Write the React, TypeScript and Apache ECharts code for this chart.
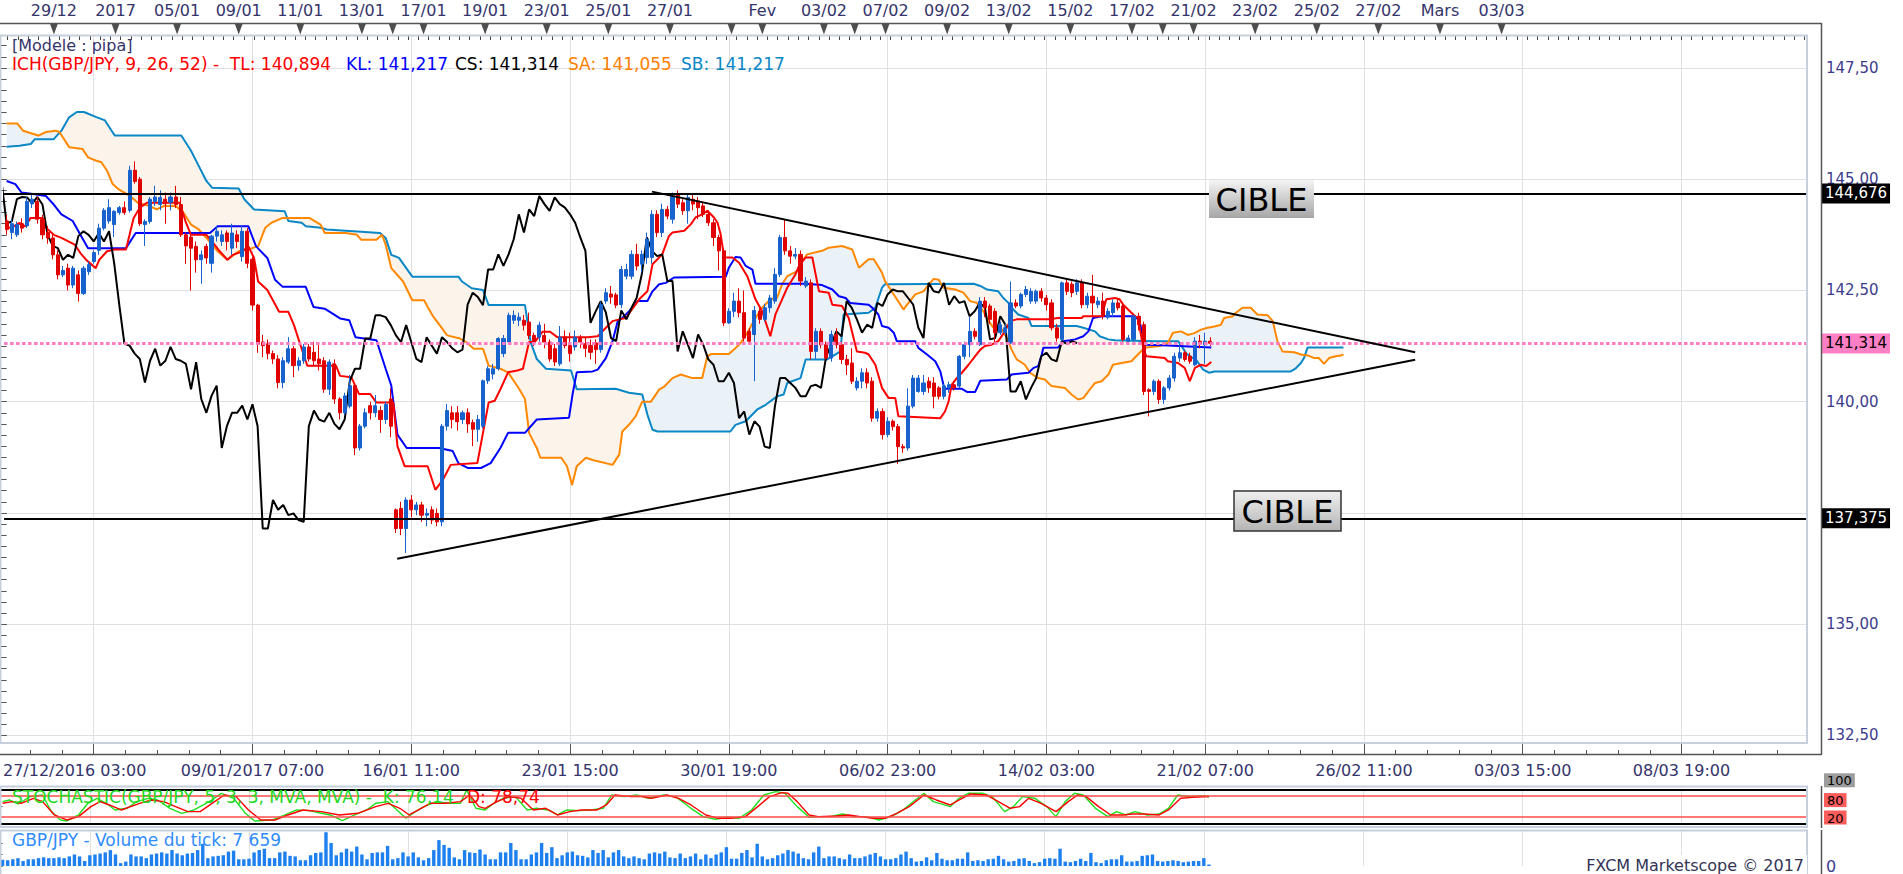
import React, { useEffect, useRef } from "react";
import * as echarts from "echarts";

const FONT = "DejaVu Sans";

// ---------- price candles (4h bars, index 0..235) ----------
const OPEN = [
  144.06,143.8,143.75,144.0,143.95,144.45,144.5,144.1,143.8,143.68,
  143.3,142.85,143.0,142.62,142.85,142.43,142.92,143.15,143.4,143.9,
  144.06,143.98,144.25,144.36,144.3,145.2,145.0,143.98,144.05,144.5,
  144.43,144.55,144.48,144.6,144.43,143.75,143.7,143.49,143.19,143.49,
  143.11,143.72,143.6,143.79,143.45,143.75,143.26,143.83,143.2,142.17,
  141.34,141.3,141.08,140.96,140.43,140.89,141.19,140.81,140.92,141.23,
  141.11,140.96,140.92,140.28,140.85,140.06,139.75,139.9,140.36,138.96,
  139.45,139.91,139.75,139.8,139.6,140.06,137.57,137.6,137.15,137.79,
  137.57,137.68,137.45,137.57,137.49,137.3,139.45,139.75,139.75,139.6,
  139.75,139.53,139.38,139.45,140.47,140.62,140.74,141.08,141.34,141.83,
  141.83,141.83,141.79,141.49,141.45,141.49,141.34,141.19,140.85,141.45,
  141.26,141.23,141.42,141.3,141.26,141.32,141.17,142.26,142.42,142.4,
  142.18,142.82,142.82,143.31,143.09,143.24,143.24,144.21,143.8,144.32,
  144.1,144.66,144.47,144.29,144.55,144.51,144.4,144.21,144.02,143.69,
  143.39,141.77,142.03,142.26,142.0,141.58,141.51,142.03,141.85,142.11,
  142.26,142.86,143.69,143.39,143.27,143.31,142.6,142.67,141.13,141.58,
  141.28,140.98,141.51,141.28,140.95,140.87,140.31,140.46,140.65,140.46,
  139.63,139.78,139.26,139.56,139.44,138.99,138.96,139.9,140.23,140.23,
  140.46,140.42,140.31,140.12,140.31,140.38,140.35,141.02,141.28,141.58,
  141.28,142.26,142.15,142.03,141.55,141.55,141.32,142.22,142.15,142.41,
  142.26,142.26,142.48,142.33,142.22,141.66,141.4,142.67,142.64,142.48,
  142.67,142.18,142.37,142.18,142.26,141.9,142.0,142.22,142.15,141.36,
  141.4,141.92,141.73,140.27,140.23,140.46,140.05,140.31,140.53,140.98,
  141.1,141.02,140.83,141.36,141.28,141.36
];
const CLOSE = [
  143.87,144.0,143.98,143.9,144.5,144.55,144.1,143.75,143.68,143.3,
  142.85,142.95,142.62,143.0,142.43,143.0,143.08,143.35,143.9,144.3,
  144.36,144.28,144.36,144.25,145.2,144.95,144.0,144.05,144.55,144.6,
  144.59,144.45,144.6,144.43,143.75,143.5,143.45,143.19,143.3,143.23,
  143.72,143.83,143.75,143.6,143.79,143.6,143.83,143.11,142.17,141.3,
  141.26,141.08,140.96,140.43,140.92,141.19,140.81,140.92,141.23,140.96,
  140.92,140.85,140.28,140.89,140.06,139.75,140.13,140.36,138.96,139.45,
  139.75,139.75,139.91,139.6,139.94,139.45,137.15,137.15,137.79,137.57,
  137.68,137.45,137.49,137.34,137.3,139.45,139.8,139.6,139.55,139.75,
  139.5,139.38,139.6,140.47,140.74,140.74,141.42,141.42,141.94,141.94,
  141.9,141.72,141.49,141.34,141.72,141.34,140.96,140.89,141.45,141.26,
  141.08,141.45,141.34,141.2,141.11,141.17,142.18,142.45,142.35,142.17,
  142.97,142.97,143.31,143.05,143.31,143.65,144.21,143.8,144.32,144.17,
  144.62,144.44,144.29,144.59,144.44,144.36,144.21,144.02,143.69,143.39,
  141.77,142.03,142.26,142.0,141.43,141.36,142.05,141.85,142.11,142.33,
  142.86,143.69,143.39,143.27,143.31,142.71,142.71,141.13,141.58,141.28,
  140.98,141.51,141.28,140.95,140.83,140.46,140.46,140.65,140.42,139.63,
  139.78,139.26,139.56,139.44,138.99,138.96,139.9,140.53,140.53,140.42,
  140.31,140.12,140.12,140.35,140.38,140.31,141.02,141.28,141.58,141.47,
  142.26,142.11,141.85,141.55,141.73,141.66,142.22,142.15,142.41,142.52,
  142.48,142.48,142.33,142.18,141.66,141.43,142.67,142.48,142.45,142.67,
  142.18,142.37,142.22,142.26,141.92,142.03,142.22,142.11,141.4,141.43,
  141.92,141.73,140.23,140.23,140.46,140.05,140.31,140.53,141.02,141.1,
  140.95,140.91,141.36,141.3,141.36,141.314
];
const LOW = [
  143.75,143.65,143.7,143.8,143.9,144.35,144.0,143.65,143.55,143.2,
  142.75,142.8,142.5,142.55,142.25,142.4,142.85,143.1,143.3,143.85,
  144.0,143.7,144.2,144.2,144.25,144.9,143.95,143.5,144.0,144.4,
  144.3,144.0,144.3,144.35,143.7,143.1,142.5,142.9,142.65,143.1,
  142.9,143.6,143.5,143.4,143.3,143.45,143.15,143.0,142.05,141.1,
  141.0,140.95,140.85,140.3,140.3,140.85,140.55,140.7,140.85,140.9,
  140.8,140.7,140.2,140.15,139.95,139.6,139.7,139.85,138.8,138.9,
  139.4,139.6,139.65,139.3,139.5,139.2,137.05,137.0,136.6,137.4,
  137.45,137.3,137.2,137.25,137.2,137.2,139.35,139.4,139.35,139.5,
  139.3,139.0,139.1,139.4,140.4,140.5,140.7,141.0,141.3,141.75,
  141.7,141.6,141.4,141.25,141.35,141.2,140.9,140.8,140.8,141.2,
  140.9,141.15,141.2,141.0,140.95,140.85,141.1,142.2,142.2,142.1,
  142.1,142.75,142.75,142.95,142.9,143.1,143.1,143.7,143.7,144.1,
  144.0,144.35,144.2,144.0,144.3,144.1,144.15,143.95,143.5,142.95,
  141.7,141.75,141.9,141.9,141.35,141.3,140.46,141.75,141.8,142.0,
  142.2,142.8,143.3,143.1,143.2,142.6,142.55,140.95,140.95,141.2,
  140.95,140.9,141.2,140.85,140.6,140.4,140.25,140.3,140.3,139.55,
  139.55,139.15,139.2,139.35,138.6,138.85,138.9,139.85,140.2,140.15,
  140.2,139.85,140.05,140.05,140.2,140.25,140.3,140.95,141.0,141.4,
  141.25,141.9,141.75,141.3,141.5,141.5,141.3,142.1,142.1,142.35,
  142.2,142.2,142.25,142.05,141.6,141.35,141.35,142.4,142.35,142.4,
  142.1,142.1,141.9,142.1,141.85,141.85,141.9,142.05,141.35,141.3,
  141.35,141.6,140.15,139.67,140.15,139.95,139.95,140.25,140.45,140.9,
  140.9,140.85,140.8,141.2,140.85,141.25
];
const HIGH = [
  144.2,144.1,144.05,144.12,144.6,144.65,144.6,144.2,143.95,143.75,
  143.4,143.05,143.1,143.05,142.95,143.05,143.15,143.4,144.0,144.35,
  144.55,144.3,144.4,144.5,145.3,145.4,145.05,144.1,144.6,144.85,
  144.75,144.7,144.7,144.85,144.6,143.8,143.75,143.6,143.4,143.55,
  143.75,143.95,143.85,143.85,144.0,143.85,143.95,143.9,143.25,142.2,
  141.5,141.4,141.15,141.05,141.0,141.45,141.25,141.0,141.3,141.3,
  141.35,141.3,141.0,140.95,140.95,140.1,140.2,140.6,140.4,139.5,
  139.85,140.0,140.15,139.9,140.0,140.3,137.6,137.75,137.85,137.9,
  137.75,137.75,137.6,137.65,137.6,139.5,139.95,139.9,139.9,139.8,
  139.85,139.6,139.7,140.5,140.8,140.85,141.45,141.5,142.0,142.05,
  142.0,141.95,142.0,141.55,141.8,141.75,141.4,141.3,141.7,141.6,
  141.55,141.6,141.5,141.45,141.4,141.4,142.25,142.55,142.6,142.45,
  143.05,143.1,143.4,143.55,143.4,143.8,144.3,144.3,144.45,144.4,
  144.7,144.75,144.55,144.65,144.65,144.6,144.5,144.3,144.1,143.75,
  143.45,142.1,142.45,142.55,142.5,141.65,142.15,142.1,142.2,142.4,
  143.0,143.75,144.1,143.5,143.45,143.4,142.8,142.75,141.65,141.65,
  141.35,141.6,141.65,141.35,141.05,141.2,140.55,140.75,140.75,140.55,
  139.85,139.85,139.65,139.6,139.5,139.05,140.3,140.6,140.6,140.6,
  140.55,140.55,140.35,140.4,140.45,140.45,141.05,141.35,141.9,141.65,
  142.35,142.35,142.2,142.1,141.8,141.75,142.7,142.3,142.45,142.6,
  142.55,142.52,142.55,142.4,142.3,141.75,142.7,142.75,142.7,142.75,
  142.75,142.45,142.85,142.35,142.45,142.1,142.3,142.3,142.2,141.5,
  141.95,142.0,141.8,140.3,140.5,140.5,140.35,140.6,141.1,141.3,
  141.15,141.1,141.45,141.5,141.55,141.45
];

// ---------- tick volume (thousands) ----------
const VOLUME_K = [
  32,30,35,41,26,35,35,41,45,41,41,
  45,41,50,60,50,26,56,60,65,71,
  83,60,15,23,60,50,50,41,60,65,
  71,65,83,65,56,65,68,83,116,41,
  50,53,56,75,80,35,35,38,71,83,
  90,41,41,71,75,53,50,30,30,56,
  68,71,176,120,56,71,90,75,101,60,
  35,68,71,71,105,35,41,71,50,71,
  45,30,41,83,135,110,95,45,35,83,
  71,68,86,60,35,35,71,71,120,83,
  35,35,60,71,120,68,98,41,56,71,
  75,56,53,45,83,68,83,45,71,83,
  50,41,50,41,35,65,71,65,75,45,
  41,65,41,50,65,35,60,41,60,71,
  98,38,38,68,83,45,116,50,35,41,
  56,65,83,75,65,41,35,71,101,41,
  50,50,41,35,60,41,41,50,60,68,
  50,35,35,41,60,75,41,23,26,45,
  30,68,38,30,
  30,38,38,71,26,30,26,35,38,53,
  35,23,26,38,41,26,15,20,38,41,
  38,90,23,20,26,38,26,68,20,15,
  30,35,35,56,23,23,26,53,56,60,
  26,23,26,30,26,20,23,26,26,41,7.66
];

// ---------- Ichimoku lines: [bar, value] ----------
const TENKAN = [[0,143.91],[1,143.91],[2.5,144.02],[3.6,143.94],[4.7,144.13],[7,144.13],[7.7,143.91],[9.2,143.75],[10.7,143.68],[13.3,143.53],[14.4,143.34],[15.5,143.19],[16.6,143.08],[17.4,143.0],[18.1,143.19],[19.6,143.38],[21.1,143.42],[23.3,143.42],[24.8,144.13],[26,144.36],[27.4,144.47],[33.8,144.47],[34.9,144.06],[36,143.75],[39,143.75],[40.1,143.6],[41.6,143.38],[43.1,143.19],[44.2,143.3],[46.1,143.38],[47.2,143.49],[48.3,143.23],[49.1,142.7],[50.9,142.51],[53.2,142.02],[55,142.02],[56.1,141.72],[57.6,141.19],[58.7,140.81],[64.3,140.81],[65.1,140.58],[67.3,140.55],[68.8,140.17],[71,140.17],[72.2,139.98],[75.5,139.98],[76.3,139.0],[77.7,138.55],[82.2,138.55],[83.7,138.02],[85.2,138.25],[86.7,138.58],[91.9,138.62],[94.1,139.98],[95.3,140.02],[96.4,140.28],[97.9,140.66],[99.7,140.7],[100.8,140.74],[102,141.34],[103.1,141.34],[104.6,141.57],[106.1,141.57],[107.5,141.45],[113.5,141.45],[115.4,141.47],[117,141.66],[118.3,141.81],[119.6,141.85],[120.9,141.88],[123.5,142.3],[125.1,142.48],[126.1,143.09],[128,143.31],[129.3,143.72],[130,143.8],[132.3,143.84],[133.6,143.99],[134.5,144.14],[135.8,144.21],[136.8,144.29],[138.1,144.14],[138.8,144.02],[139.4,143.76],[140.1,143.24],[141.7,143.24],[143,143.12],[144.6,142.82],[146.2,142.3],[147.5,142.03],[149.1,141.47],[150.1,141.96],[151.4,142.3],[152.4,142.56],[154,142.86],[154.7,143.05],[156,143.24],[157.3,143.24],[158.6,142.48],[160.5,142.45],[161.2,142.18],[163.1,142.15],[164.4,141.88],[166,141.13],[167.6,141.1],[168.3,141.06],[169.6,140.83],[170.9,140.31],[172.2,140.08],[173.5,140.08],[174.1,139.67],[182.3,139.63],[183.2,139.78],[183.9,140.0],[184.5,140.38],[185.5,140.53],[186.5,140.65],[187.8,140.83],[188.8,140.98],[190.1,141.17],[191,141.25],[192.3,141.28],[193.6,141.36],[194.9,141.58],[195.9,141.81],[197.2,141.85],[203.4,141.85],[205.3,141.88],[209.9,141.88],[210.2,141.92],[213.8,141.92],[214.7,142.3],[216.4,142.33],[217.3,142.3],[218,142.18],[220.3,141.92],[220.9,141.88],[221.9,141.21],[222.5,141.02],[226.1,140.98],[226.7,140.91],[228.7,140.87],[230,140.76],[231,140.46],[232,140.76],[233.2,140.83],[234.2,140.8],[235.2,140.89]];

const KIJUN = [[0,144.96],[1.7,144.89],[2.9,144.7],[5.5,144.66],[7.7,144.62],[9.2,144.43],[10.7,144.21],[12.9,144.06],[14.4,143.75],[15.9,143.45],[23.3,143.45],[25.2,143.79],[39.7,143.79],[41.2,143.94],[47.2,143.94],[48.7,143.49],[50.9,143.23],[52.4,142.74],[53.9,142.58],[58.4,142.58],[59.9,142.13],[62.1,142.09],[65.1,141.87],[66.9,141.83],[68.1,141.45],[72.2,141.38],[74,140.74],[75.1,140.36],[76.3,139.26],[78.1,138.96],[84.4,138.96],[87.1,138.89],[88.2,138.62],[90,138.51],[92.6,138.51],[94.5,138.62],[96.4,138.96],[97.9,139.3],[101.2,139.3],[103.5,139.6],[109.8,139.64],[110.5,140.17],[111.3,140.66],[114.4,140.68],[115.4,140.72],[117,140.98],[118.3,141.36],[119.3,141.81],[120.2,141.88],[121.5,142.03],[123.2,142.26],[125.1,142.26],[126.1,142.48],[127.4,142.64],[128.7,142.67],[130.3,142.79],[140.4,142.81],[141,143.01],[142.3,143.25],[143.3,143.24],[144.3,143.05],[145.6,142.97],[146.2,142.65],[156,142.65],[159.2,142.62],[161.2,142.52],[162.5,142.37],[163.8,142.33],[164.7,142.22],[168.3,142.18],[169,142.11],[170.2,141.96],[170.9,141.7],[172.2,141.66],[173.2,141.55],[173.8,141.36],[177.4,141.36],[178,141.21],[179.7,141.06],[181.3,140.91],[182.3,140.68],[182.9,140.38],[183.2,140.29],[186.5,140.29],[187.5,140.22],[189.1,140.22],[190.1,140.47],[195.3,140.5],[196.2,140.61],[199.5,140.65],[200.5,140.76],[201.4,140.8],[202.1,141.06],[202.4,141.21],[205.3,141.22],[206.3,141.36],[207.6,141.38],[208.6,141.4],[210.2,141.47],[211.2,141.58],[212.1,141.88],[213.8,141.92],[220.3,141.92],[221.2,141.81],[221.9,141.43],[222.5,141.28],[226.7,141.26],[235.2,141.22]];

const SPAN_A = [[0,146.25],[2.1,146.25],[3.2,146.09],[6.2,145.98],[7.7,146.06],[9.6,146.09],[10.3,146.06],[12.2,145.72],[14.8,145.68],[15.9,145.49],[17.4,145.42],[18.5,145.38],[19.6,145.19],[20.7,144.89],[21.9,144.77],[24.1,144.62],[25.6,144.47],[27.8,144.4],[29.3,144.32],[30.8,144.4],[33,144.4],[34.5,144.25],[36,143.98],[37.5,143.87],[39,143.68],[41.2,143.38],[43.1,143.19],[45.3,143.38],[47.9,143.45],[49.1,143.49],[50.5,143.91],[51.7,144.02],[53.9,144.13],[59.1,144.13],[61.3,143.98],[62.1,143.79],[66.2,143.79],[68.4,143.75],[69.2,143.64],[72.2,143.64],[73.3,143.75],[74,143.53],[75.1,143.0],[77.4,142.7],[79.2,142.28],[81.5,142.28],[82.2,142.13],[83.3,141.91],[84.8,141.68],[86,141.49],[88.5,141.42],[89.7,141.34],[91.2,141.19],[93,141.19],[94.1,140.81],[96.4,140.74],[97.9,140.66],[100.1,140.28],[101.2,140.06],[102,139.3],[103.5,138.96],[104.2,138.74],[108.3,138.74],[109.4,138.55],[110.4,138.13],[111.3,138.55],[113.1,138.74],[114.4,138.69],[118.3,138.58],[119.6,138.81],[120.2,139.33],[121.5,139.48],[122.8,139.67],[124.1,140.0],[125.8,140.0],[127.4,140.27],[128.4,140.34],[130,140.53],[131.6,140.61],[133.9,140.53],[135.8,140.53],[136.8,141.02],[137.5,141.07],[141,141.07],[142,141.17],[143.3,141.32],[144.6,141.55],[146.2,141.88],[147.5,142.11],[149.1,142.3],[150.4,142.33],[151.4,142.64],[152.4,142.82],[154.3,142.93],[155.3,143.16],[156.3,143.31],[159.2,143.39],[160.5,143.46],[163.1,143.5],[165.1,143.42],[166.4,143.01],[168.3,143.2],[169.3,143.2],[170.9,142.9],[171.5,142.71],[173.2,142.41],[175.1,142.07],[175.8,142.18],[177.4,142.41],[179,142.48],[180.3,142.67],[181,142.76],[182,142.74],[182.9,142.56],[185.2,142.52],[186.8,142.45],[188.1,142.26],[189.4,142.22],[190.7,142.03],[191.7,141.81],[192.7,141.66],[194.3,141.62],[195.3,141.43],[196.2,141.17],[197.2,140.95],[198.8,140.83],[199.8,140.65],[201.4,140.53],[202.7,140.5],[204,140.35],[206.6,140.31],[207.9,140.16],[209.2,140.05],[210.2,140.08],[211.2,140.23],[212.5,140.42],[213.8,140.46],[215.1,140.61],[216,140.83],[217.7,140.87],[219.6,140.91],[221.2,141.1],[222.2,141.21],[225.1,141.25],[226.7,141.32],[227.7,141.55],[229.3,141.58],[230.6,141.5],[231.9,141.54],[233.2,141.62],[234.5,141.66],[235.8,141.69],[237.1,141.73],[237.7,141.88],[239.4,141.92],[240,142.0],[241.3,142.11],[242.9,142.11],[244.2,141.96],[246.2,141.94],[247.2,141.81],[248.1,141.36],[249.1,141.13],[251.4,141.11],[252.7,141.06],[254,141.04],[255.3,140.98],[256.2,140.98],[257.2,140.85],[258.2,140.98],[259.5,141.02],[260.5,141.04],[261,141.06]];

const SPAN_B = [[0,145.73],[2.5,145.75],[4.7,145.79],[5.5,145.9],[9.2,145.9],[10.7,146.09],[12.2,146.39],[13.7,146.51],[15.1,146.51],[17.4,146.4],[19.2,146.32],[21.1,145.98],[34.1,145.98],[36,145.64],[37.5,145.3],[39,144.96],[40.1,144.81],[45.3,144.79],[46.4,144.55],[48.3,144.32],[54.3,144.28],[55,144.06],[57.6,144.02],[58.4,143.94],[61.3,143.91],[62.5,143.87],[72.9,143.79],[74,143.68],[75.1,143.3],[76.6,143.23],[79.2,142.81],[88.2,142.81],[88.9,142.7],[90.8,142.55],[93,142.51],[94.1,142.17],[101.2,142.17],[102.3,141.34],[103.5,140.96],[105.3,140.74],[110.2,140.7],[111.3,140.28],[118.9,140.29],[121.5,140.2],[124.1,140.16],[125.1,139.71],[126.1,139.37],[127.1,139.33],[141.3,139.33],[142.3,139.48],[144.3,139.56],[146.5,139.82],[148.2,139.93],[150.4,140.12],[151.7,140.16],[152.4,140.42],[155,140.53],[156,140.95],[160.2,140.95],[161.2,141.02],[162.8,141.13],[163.4,141.96],[168.3,142.0],[169.6,142.11],[170.9,142.56],[171.5,142.64],[188.8,142.65],[190.1,142.6],[191.4,142.52],[193.6,142.48],[194.6,142.33],[195.6,142.22],[196.2,142.11],[197.5,141.96],[199.5,141.88],[200.1,141.7],[208.9,141.7],[210.2,141.66],[212.5,141.58],[213.4,141.47],[215.1,141.4],[216.4,141.38],[224.2,141.36],[228.7,141.36],[229.3,141.27],[230.3,141.08],[231.3,141.0],[232.3,140.93],[233.6,140.72],[234.8,140.65],[235.8,140.68],[250.7,140.68],[251.7,140.75],[252.7,140.87],[253.3,140.98],[254,141.22],[261,141.22]];

// points where Senkou A and B cross; the cloud starts bullish (A above B)
const CLOUD_CROSSES = [[10.4,146.05],[124.5,140.0],[171.9,142.64],[180.2,142.65],[182.45,142.65],[226.9,141.36],[253.45,141.04]];
const CHIKOU_SHIFT = 26;

// ---------- stochastic (5,3,3) ----------
const STOCH_K = [[0,63.7],[1.3,68.6],[3.0,56.8],[5.4,78.4],[7.8,83.3],[9.5,34.3],[11.3,9.8],[12.5,6.9],[14.8,24.5],[16.6,58.8],[18.4,73.5],[20.2,58.8],[21.9,39.2],[24.3,44.1],[26.1,63.7],[28.4,73.5],[30.2,68.6],[32.6,44.1],[34.9,29.4],[37.3,39.2],[39.1,53.9],[40.8,68.6],[42.6,88.2],[45,73.5],[47.3,29.4],[49.1,6.9],[52.6,9.8],[55,24.5],[57.3,39.2],[59.7,37.2],[62.1,29.4],[63.8,24.5],[66.2,7.8],[68.6,24.5],[70.9,39.2],[72.7,58.8],[75.1,63.7],[76.8,39.2],[78.6,14.7],[80.4,34.3],[82.1,49],[84.5,63.7],[86.9,58.8],[89.2,58.8],[90.4,98],[92.2,44.1],[94,39.2],[95.7,58.8],[97.5,73.5],[99.9,78.4],[102.2,39.2],[104,44.1],[106.3,39.2],[108.1,24.5],[109.9,39.2],[112.3,37.2],[114.6,39.2],[117,44.1],[118.7,83.3],[121.1,78.4],[123.5,83.3],[125.8,73.5],[128.8,83.3],[131.1,78.4],[134.1,44.1],[136.5,19.6],[138.8,11.8],[141.2,17.6],[143.5,14.7],[145.9,39.2],[148.3,83.3],[150.6,93.1],[152.4,88.2],[154.8,49],[157.1,17.6],[158.9,19.6],[161.2,19.6],[163.6,27.4],[166,19.6],[168.3,19.6],[170.7,9.8],[173.1,19.6],[175.4,39.2],[177.8,68.6],[179.5,88.2],[181.3,63.7],[184.6,49],[186.3,73.5],[188.1,88.2],[191,88.2],[192.8,78.4],[195.2,34.3],[196.9,49],[198.7,78.4],[201.1,73.5],[203.4,49],[205.2,19.6],[207,63.7],[208.8,88.2],[210.5,83.3],[212.9,44.1],[215.3,19.6],[217,34.3],[218.8,24.5],[220.6,34.3],[223,24.5],[225.3,27.4],[227.1,44.1],[228.9,83.3],[231.2,78.4],[234.2,81.3],[235,76.14]];
const STOCH_D = [[0,58.8],[1.9,63.7],[3.6,58.8],[6,73.5],[7.8,63.7],[10.1,24.5],[12.5,9.8],[14.8,19.6],[17.2,49],[19,63.7],[20.8,53.9],[23.1,39.2],[26.7,58.8],[29,68.6],[31.4,63.7],[33.7,49],[36.1,34.3],[38.5,34.3],[40.8,58.8],[43.2,83.3],[45.5,78.4],[47.9,39.2],[50.3,9.8],[53.2,9.8],[55.6,24.5],[58.5,39.2],[62.1,34.3],[65.6,24.5],[69.2,29.4],[72.7,49],[75.1,58.8],[77.4,44.1],[79.2,24.5],[81,39.2],[83.3,58.8],[86.3,58.8],[89.2,63.7],[91,83.3],[92.8,49],[94,44.1],[96.3,63.7],[98.7,78.4],[101,73.5],[103.4,39.2],[105.8,44.1],[108.1,24.5],[110.5,34.3],[112.8,39.2],[115.8,39.2],[117.6,53.9],[119.3,83.3],[122.3,78.4],[124.6,78.4],[126.4,73.5],[129.4,83.3],[131.7,73.5],[134.1,53.9],[137,24.5],[139.4,14.7],[141.8,14.7],[144.7,19.6],[147.1,49],[149.4,78.4],[151.8,90.2],[153,88.2],[154.8,63.7],[157.1,24.5],[158.9,19.6],[162.4,21.6],[164.8,24.5],[167.1,19.6],[169.5,14.7],[171.9,14.7],[174.2,29.4],[176.6,49],[179.5,83.3],[181.9,68.6],[184.6,53.9],[186.9,73.5],[188.6,86.2],[191.6,83.3],[194,63.7],[196.3,44.1],[198.1,49],[199.9,73.5],[202.3,58.8],[205.2,34.3],[207.6,63.7],[209.4,83.3],[211.1,78.4],[213.5,49],[215.9,24.5],[218.2,24.5],[220,27.4],[222.4,27.4],[225.3,24.5],[227.1,39.2],[229.5,73.5],[231.8,76.4],[235,78.74]];

// ---------- annotations ----------
const TARGET_HIGH = 144.676;
const TARGET_LOW = 137.375;
const LAST_PRICE = 141.314;
const TREND_UPPER = [[126, 144.72], [275, 141.11]];
const TREND_LOWER = [[76.25, 136.47], [275, 140.94]];

// ---------- axes ----------
const PRICE_TICKS = [132.5, 135, 137.5, 140, 142.5, 145, 147.5];
const PRICE_LABELS = [132.5, 135, 140, 142.5, 145, 147.5]; // 137,50 is hidden under the 137,375 tag
const BOTTOM_TICKS = [17, 48, 79, 110, 141, 172, 203, 234, 265, 296, 327];
const BOTTOM_LABELS = ["27/12/2016 03:00", "09/01/2017 07:00", "16/01 11:00", "23/01 15:00", "30/01 19:00", "06/02 23:00", "14/02 03:00", "21/02 07:00", "26/02 11:00", "03/03 15:00", "08/03 19:00"];
const TOP_MARKS = [10, 22, 34, 46, 58, 70, 76, 82, 94, 106, 118, 130, 142, 148, 160, 166, 172, 184, 196, 208, 220, 226, 232, 244, 256, 268, 280, 292];
const TOP_LABELS = ["29/12", "2017", "05/01", "09/01", "11/01", "13/01", "", "17/01", "19/01", "23/01", "25/01", "27/01", "", "Fev", "03/02", "", "07/02", "09/02", "13/02", "15/02", "17/02", "", "21/02", "23/02", "25/02", "27/02", "Mars", "03/03"];

const X_MIN = -0.5;
const X_MAX = 351.5;
const PLOT_W = 1807;
const AXIS_X = 1821.5;
const LABEL_COLOR = "#34346b";
const PRICE_LABEL_COLOR = "#3c3c8c";
const GRID_COLOR = "#e0e0e0";
const FRAME_COLOR = "#c6d0dc";

const fmt = (v: number, d: number) => v.toFixed(d).replace(".", ",");

function buildOption() {
  const topLabeled = TOP_MARKS.filter((_, i) => TOP_LABELS[i] !== "");
  const topOdd: number[] = [];
  for (let t = 1; t < X_MAX; t += 2) topOdd.push(t);
  const dayTicks: number[] = [];
  for (let k = -2; k < 55; k++) {
    const t = 17 + k * 6.2;
    if (t > X_MIN && t < X_MAX) dayTicks.push(t);
  }
  const quarterTicks: number[] = [];
  for (let v = 132.5; v <= 148.01; v += 0.25) quarterTicks.push(+v.toFixed(2));

  const hiddenX = (gridIndex: number) => ({
    type: "value", gridIndex, min: X_MIN, max: X_MAX, show: false,
  });
  const vGridLines = {
    silent: true, symbol: "none", z: 0,
    label: { show: false },
    lineStyle: { color: GRID_COLOR, width: 1, type: "solid" },
    data: BOTTOM_TICKS.map((x) => ({ xAxis: x })),
  };

  const candleData = CLOSE.map((c, i) => [i, OPEN[i], c, LOW[i], HIGH[i]]);
  const chikou = CLOSE.map((c, i) => [i - CHIKOU_SHIFT, c]);
  const nSeg = CLOUD_CROSSES.length + 1;

  const lineSeries = (name: string, data: number[][], color: string, width = 2, z = 3) => ({
    name, type: "line", xAxisIndex: 0, yAxisIndex: 0, data, showSymbol: false, symbol: "none",
    silent: true, z, lineStyle: { color, width }, animation: false,
  });

  const boxLabel = (text: string, bg: string, fg: string, size = 15, distance = 15) => ({
    show: true, position: "end", distance, formatter: text, color: fg, backgroundColor: bg,
    fontFamily: FONT, fontSize: size, padding: [3, 3, 2, 3],
  });

  return {
    animation: false,
    backgroundColor: "#ffffff",
    textStyle: { fontFamily: FONT },
    grid: [
      { left: 0, top: 35, width: PLOT_W, height: 708 },
      { left: 0, top: 23, width: PLOT_W, height: 12 },
      { left: 0, top: 789.3, width: PLOT_W, height: 34 },
      { left: 0, top: 830, width: PLOT_W, height: 41.7 },
    ],
    xAxis: [
      {
        type: "value", gridIndex: 0, min: X_MIN, max: X_MAX, position: "bottom", offset: 11,
        axisLine: { show: false }, splitLine: { show: false },
        axisTick: { show: true, inside: true, length: 11, customValues: BOTTOM_TICKS, lineStyle: { color: "#555" } },
        axisLabel: {
          customValues: BOTTOM_TICKS, margin: 8, color: LABEL_COLOR, fontSize: 16, fontFamily: FONT,
          formatter: (v: number) => {
            const i = BOTTOM_TICKS.indexOf(Math.round(v));
            if (i === 0) return "{f|" + BOTTOM_LABELS[0] + "}";
            return i >= 0 ? BOTTOM_LABELS[i] : "";
          },
          rich: { f: { padding: [0, 38, 0, 0], color: LABEL_COLOR, fontSize: 16, fontFamily: FONT } },
        },
      },
      {
        type: "value", gridIndex: 0, min: X_MIN, max: X_MAX, position: "bottom", offset: 11,
        axisLine: { show: false }, splitLine: { show: false }, axisLabel: { show: false },
        axisTick: { show: true, inside: true, length: 4, customValues: dayTicks, lineStyle: { color: "#555" } },
      },
      {
        type: "value", gridIndex: 1, min: X_MIN, max: X_MAX, position: "top",
        axisLine: { show: false }, splitLine: { show: false },
        axisTick: { show: true, inside: true, length: 5, customValues: topOdd, lineStyle: { color: "#444" } },
        axisLabel: {
          customValues: topLabeled, margin: 5, color: LABEL_COLOR, fontSize: 16, fontFamily: FONT,
          formatter: (v: number) => {
            const i = TOP_MARKS.indexOf(Math.round(v));
            return i >= 0 ? TOP_LABELS[i] : "";
          },
        },
      },
      hiddenX(2),
      hiddenX(3),
    ],
    yAxis: [
      {
        type: "value", gridIndex: 0, min: 132.33, max: 148.24, position: "right", offset: 14,
        axisLine: { show: false }, splitLine: { show: false },
        axisTick: { show: true, inside: true, length: 14, customValues: PRICE_TICKS, lineStyle: { color: "#555" } },
        axisLabel: {
          customValues: PRICE_LABELS, margin: 5, color: PRICE_LABEL_COLOR, fontSize: 15, fontFamily: FONT,
          formatter: (v: number) => fmt(v, 2),
        },
      },
      {
        type: "value", gridIndex: 0, min: 132.33, max: 148.24, position: "right", offset: 14,
        axisLine: { show: false }, splitLine: { show: false }, axisLabel: { show: false },
        axisTick: { show: true, inside: true, length: 7, customValues: quarterTicks, lineStyle: { color: "#555" } },
      },
      { type: "value", gridIndex: 1, min: 0, max: 1, show: false },
      {
        type: "value", gridIndex: 2, min: 0, max: 100, position: "right", offset: 14,
        axisLine: { show: false }, splitLine: { show: false }, axisLabel: { show: false },
        axisTick: { show: true, inside: true, length: 7, customValues: [0, 50, 100], lineStyle: { color: "#555" } },
      },
      {
        type: "value", gridIndex: 3, min: 0, max: 187.6, position: "right", offset: 14,
        axisLine: { show: false }, splitLine: { show: false },
        axisTick: { show: true, inside: true, length: 7, customValues: [0, 60, 120], lineStyle: { color: "#555" } },
        axisLabel: { customValues: [0], margin: 5, color: PRICE_LABEL_COLOR, fontSize: 16, fontFamily: FONT, formatter: () => "0" },
      },
    ],
    series: [
      // grid lines of the price panel
      {
        type: "line", xAxisIndex: 0, yAxisIndex: 0, data: [], silent: true, z: 0,
        markLine: {
          silent: true, symbol: "none", z: 0, label: { show: false },
          lineStyle: { color: GRID_COLOR, width: 1, type: "solid" },
          data: [...PRICE_TICKS.map((v) => ({ yAxis: v })), ...BOTTOM_TICKS.map((x) => ({ xAxis: x }))],
        },
      },
      // Kumo fill
      {
        type: "custom", xAxisIndex: 0, yAxisIndex: 0, silent: true, z: 1,
        data: Array.from({ length: nSeg }, (_, k) => [k, 140]),
        renderItem: (params: any, api: any) => {
          const k = params.dataIndex;
          const s = k === 0 ? -Infinity : CLOUD_CROSSES[k - 1][0];
          const e = k === CLOUD_CROSSES.length ? Infinity : CLOUD_CROSSES[k][0];
          const pts: number[][] = [];
          if (k > 0) pts.push(CLOUD_CROSSES[k - 1]);
          SPAN_A.forEach((p) => { if (p[0] > s && p[0] < e) pts.push(p); });
          if (k < CLOUD_CROSSES.length) pts.push(CLOUD_CROSSES[k]);
          SPAN_B.filter((p) => p[0] > s && p[0] < e).reverse().forEach((p) => pts.push(p));
          const bullish = k % 2 === 0;
          return {
            type: "polygon",
            shape: { points: pts.map((p) => api.coord(p)) },
            style: { fill: bullish ? "#eaf2f8" : "#fcf4ea", stroke: "none" },
            silent: true,
          };
        },
      },
      lineSeries("SB", SPAN_B, "#0a87c6"),
      lineSeries("SA", SPAN_A, "#ff8800"),
      lineSeries("KL", KIJUN, "#0000ff"),
      lineSeries("TL", TENKAN, "#ff0000"),
      lineSeries("CS", chikou, "#000000"),
      {
        type: "candlestick", xAxisIndex: 0, yAxisIndex: 0, data: candleData, silent: true, z: 4,
        encode: { x: 0, y: [1, 2, 3, 4] }, barWidth: 3.6,
        itemStyle: { color: "#1762cc", color0: "#e00000", borderColor: "#1762cc", borderColor0: "#e00000", borderWidth: 1 },
      },
      // drawings: targets, current price, triangle
      {
        type: "line", xAxisIndex: 0, yAxisIndex: 0, data: [], silent: true, z: 6,
        markLine: {
          silent: true, symbol: "none", z: 10, animation: false,
          data: [
            { yAxis: TARGET_HIGH, lineStyle: { color: "#000", width: 2, type: "solid" }, label: boxLabel(fmt(TARGET_HIGH, 3), "#000", "#fff") },
            { yAxis: TARGET_LOW, lineStyle: { color: "#000", width: 2, type: "solid" }, label: boxLabel(fmt(TARGET_LOW, 3), "#000", "#fff") },
            { yAxis: LAST_PRICE, lineStyle: { color: "#ff7cc2", width: 3, type: [3.5, 2.5] }, label: boxLabel(fmt(LAST_PRICE, 3), "#ff80c4", "#000") },
            [
              { coord: TREND_UPPER[0], lineStyle: { color: "#000", width: 2, type: "solid" }, label: { show: false } },
              { coord: TREND_UPPER[1] },
            ],
            [
              { coord: TREND_LOWER[0], lineStyle: { color: "#000", width: 2, type: "solid" }, label: { show: false } },
              { coord: TREND_LOWER[1] },
            ],
          ],
        },
      },
      // top date markers
      {
        type: "scatter", xAxisIndex: 2, yAxisIndex: 2, silent: true, z: 5,
        data: TOP_MARKS.map((x) => [x, 0.5]),
        symbol: "triangle", symbolRotate: 180, symbolSize: [8, 11],
        itemStyle: { color: "#222" },
      },
      // stochastic panel
      {
        type: "line", xAxisIndex: 3, yAxisIndex: 3, data: [], silent: true, z: 0,
        markLine: vGridLines,
      },
      {
        type: "line", xAxisIndex: 3, yAxisIndex: 3, data: STOCH_K, showSymbol: false, symbol: "none",
        silent: true, z: 3, lineStyle: { color: "#1fe01f", width: 1.4 },
      },
      {
        type: "line", xAxisIndex: 3, yAxisIndex: 3, data: STOCH_D, showSymbol: false, symbol: "none",
        silent: true, z: 4, lineStyle: { color: "#ff0000", width: 1.4 },
      },
      {
        type: "line", xAxisIndex: 3, yAxisIndex: 3, data: [], silent: true, z: 5,
        markLine: {
          silent: true, symbol: "none", z: 6,
          data: [
            { yAxis: 0, lineStyle: { color: "#000", width: 2, type: "solid" }, label: { show: false } },
            { yAxis: 80, lineStyle: { color: "#ff4a4a", width: 1.5, type: "solid" }, label: { ...boxLabel("80", "#ff5c5c", "#000", 13, 17), padding: [1, 3, 0, 3], verticalAlign: "top", offset: [0, -3] } },
            { yAxis: 20, lineStyle: { color: "#ff4a4a", width: 1.5, type: "solid" }, label: { ...boxLabel("20", "#ff5c5c", "#000", 13, 17), padding: [1, 3, 0, 3], verticalAlign: "top", offset: [0, -6] } },
            { yAxis: 100, lineStyle: { color: "#000", width: 2, type: "solid" }, label: { ...boxLabel("100", "#9c9c9c", "#000", 13, 17), padding: [1, 3, 0, 3], verticalAlign: "bottom", offset: [0, -2] } },
          ],
        },
      },
      // volume panel
      {
        type: "line", xAxisIndex: 4, yAxisIndex: 4, data: [], silent: true, z: 0,
        markLine: vGridLines,
      },
      {
        type: "bar", xAxisIndex: 4, yAxisIndex: 4, silent: true, z: 3,
        data: VOLUME_K.map((v, i) => [i, v]), barWidth: 3.4,
        itemStyle: { color: "#1e80ee" },
      },
    ],
    graphic: [
      // frames
      { type: "rect", z: 40, silent: true, shape: { x: 0.5, y: 35.5, width: 1806.5, height: 707.5 }, style: { fill: "none", stroke: FRAME_COLOR, lineWidth: 2 } },
      { type: "rect", z: 40, silent: true, shape: { x: 0.5, y: 786.5, width: 1806.5, height: 40.5 }, style: { fill: "none", stroke: FRAME_COLOR, lineWidth: 2 } },
      { type: "rect", z: 40, silent: true, shape: { x: 0.5, y: 830.5, width: 1806.5, height: 50 }, style: { fill: "none", stroke: FRAME_COLOR, lineWidth: 2 } },
      { type: "line", z: 40, silent: true, shape: { x1: 0, y1: 23.5, x2: AXIS_X, y2: 23.5 }, style: { stroke: "#555", lineWidth: 1.5 } },
      { type: "line", z: 40, silent: true, shape: { x1: 0, y1: 754.5, x2: AXIS_X, y2: 754.5 }, style: { stroke: "#555", lineWidth: 1.5 } },
      { type: "line", z: 40, silent: true, shape: { x1: AXIS_X, y1: 23, x2: AXIS_X, y2: 755 }, style: { stroke: "#555", lineWidth: 1.5 } },
      { type: "line", z: 40, silent: true, shape: { x1: AXIS_X, y1: 786, x2: AXIS_X, y2: 828 }, style: { stroke: "#555", lineWidth: 1.5 } },
      { type: "line", z: 40, silent: true, shape: { x1: AXIS_X, y1: 830, x2: AXIS_X, y2: 874 }, style: { stroke: "#555", lineWidth: 1.5 } },
      // legends
      { type: "text", z: 50, silent: true, x: 12, y: 45, style: { text: "[Modele : pipa]", fill: "#34346b", font: `16px ${FONT}`, verticalAlign: "middle" } },
      { type: "text", z: 50, silent: true, x: 12, y: 64, style: { text: "ICH(GBP/JPY, 9, 26, 52) -  TL: 140,894", fill: "#ff0000", font: `17px ${FONT}`, verticalAlign: "middle" } },
      { type: "text", z: 50, silent: true, x: 346, y: 64, style: { text: "KL: 141,217", fill: "#0000ff", font: `17px ${FONT}`, verticalAlign: "middle" } },
      { type: "text", z: 50, silent: true, x: 455, y: 64, style: { text: "CS: 141,314", fill: "#000000", font: `17px ${FONT}`, verticalAlign: "middle" } },
      { type: "text", z: 50, silent: true, x: 568, y: 64, style: { text: "SA: 141,055", fill: "#ff8000", font: `17px ${FONT}`, verticalAlign: "middle" } },
      { type: "text", z: 50, silent: true, x: 681, y: 64, style: { text: "SB: 141,217", fill: "#0a87c6", font: `17px ${FONT}`, verticalAlign: "middle" } },
      { type: "text", z: 50, silent: true, x: 12, y: 797, style: { text: "STOCHASTIC(GBP/JPY, 5, 3, 3, MVA, MVA) -  K: 76,14", fill: "#1ed81e", font: `17px ${FONT}`, verticalAlign: "middle" } },
      { type: "text", z: 50, silent: true, x: 467, y: 797, style: { text: "D: 78,74", fill: "#ff0000", font: `17px ${FONT}`, verticalAlign: "middle" } },
      { type: "text", z: 50, silent: true, x: 12, y: 840, style: { text: "GBP/JPY - Volume du tick: 7 659", fill: "#2f8cff", font: `17px ${FONT}`, verticalAlign: "middle" } },
      // copyright
      { type: "rect", z: 45, silent: true, shape: { x: 1583, y: 855, width: 224, height: 19 }, style: { fill: "#ffffff" } },
      { type: "text", z: 50, silent: true, x: 1804, y: 865, style: { text: "FXCM Marketscope \u00a9 2017", fill: "#333355", font: `16px ${FONT}`, align: "right", verticalAlign: "middle" } },
      // CIBLE tags
      {
        type: "rect", z: 45, silent: true, shape: { x: 1209, y: 180, width: 105, height: 38 },
        style: { fill: new echarts.graphic.LinearGradient(0, 0, 0, 1, [{ offset: 0, color: "#f4f4f4" }, { offset: 1, color: "#a6a6a6" }]) },
      },
      { type: "text", z: 50, silent: true, x: 1261.5, y: 200, style: { text: "CIBLE", fill: "#000", font: `32px ${FONT}`, align: "center", verticalAlign: "middle" } },
      {
        type: "rect", z: 45, silent: true, shape: { x: 1234, y: 491, width: 107, height: 40 },
        style: { fill: new echarts.graphic.LinearGradient(0, 0, 0, 1, [{ offset: 0, color: "#f0f0f0" }, { offset: 1, color: "#b4b4b4" }]), stroke: "#333", lineWidth: 1.5 },
      },
      { type: "text", z: 50, silent: true, x: 1287.5, y: 512, style: { text: "CIBLE", fill: "#000", font: `32px ${FONT}`, align: "center", verticalAlign: "middle" } },
    ],
  };
}

export default function App() {
  const ref = useRef<HTMLDivElement>(null);
  useEffect(() => {
    if (!ref.current) return;
    const chart = echarts.init(ref.current, null, { renderer: "svg" });
    chart.setOption(buildOption() as any);
    return () => chart.dispose();
  }, []);
  return (
    <div
      ref={ref}
      style={{ position: "fixed", left: 0, top: 0, width: 1903, height: 874, background: "#ffffff" }}
    />
  );
}
